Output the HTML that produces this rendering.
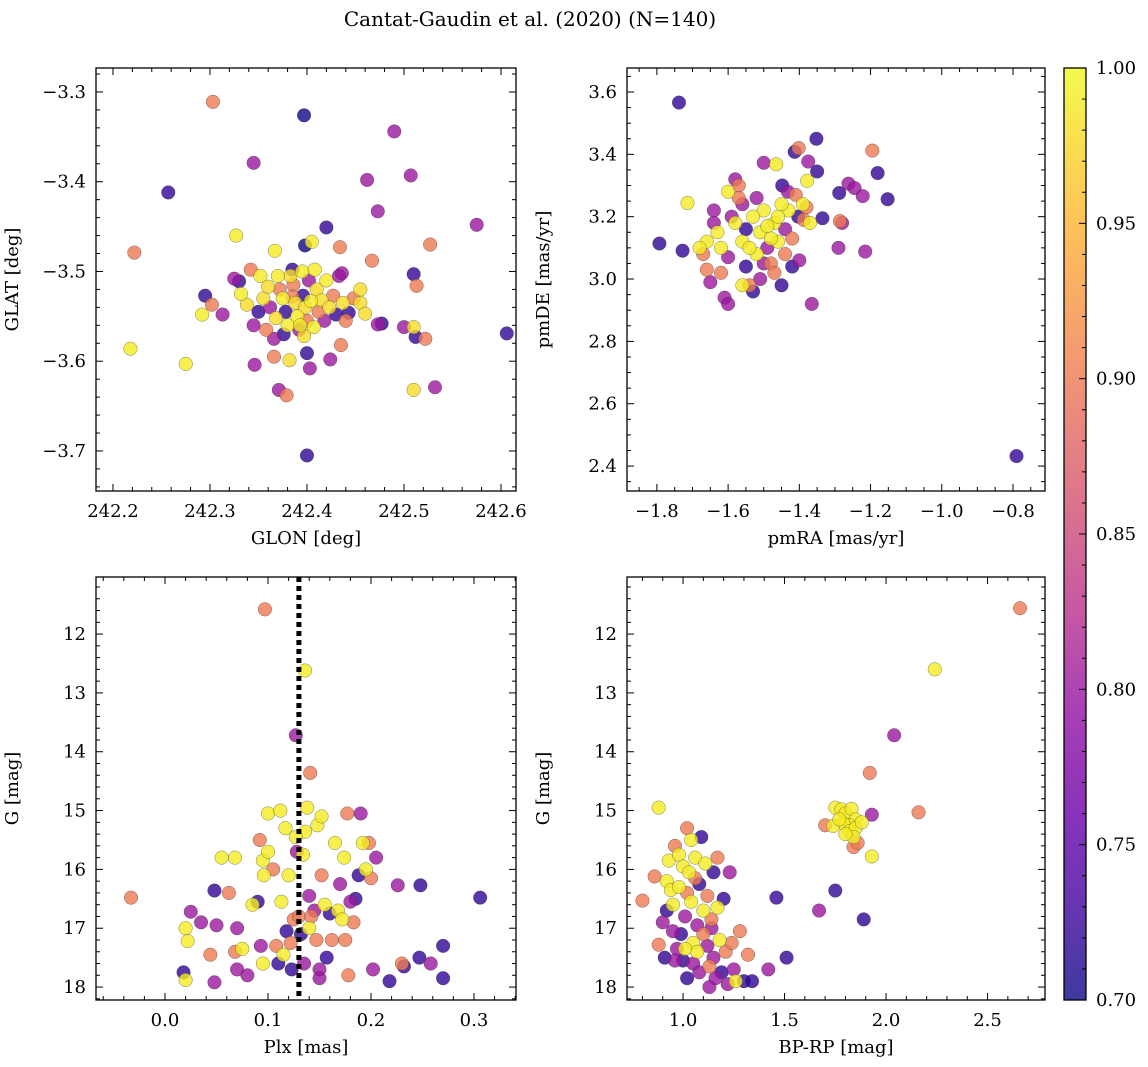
<!DOCTYPE html>
<html><head><meta charset="utf-8"><style>
html,body{margin:0;padding:0;background:#fff;}
svg{display:block;font-family:"DejaVu Serif","Liberation Serif",serif;}
</style></head><body>
<svg id="fig" width="1148" height="1067" viewBox="0 0 1148 1067">
<defs>
<linearGradient id="plasmaGrad" x1="0" y1="1" x2="0" y2="0">
<stop offset="0" stop-color="#0d0887"/><stop offset="0.1" stop-color="#41049d"/><stop offset="0.2" stop-color="#6a00a8"/><stop offset="0.3" stop-color="#8f0da4"/><stop offset="0.4" stop-color="#b12a90"/><stop offset="0.5" stop-color="#cc4778"/><stop offset="0.6" stop-color="#e16462"/><stop offset="0.7" stop-color="#f2844b"/><stop offset="0.8" stop-color="#fca636"/><stop offset="0.9" stop-color="#fcce25"/><stop offset="1" stop-color="#f0f921"/>
</linearGradient>
</defs>
<text x="530" y="26" text-anchor="middle" font-size="20">Cantat-Gaudin et al. (2020) (N=140)</text>
</svg>
<script>
const glon=[242.303,242.397,242.257,242.345,242.490,242.222,242.327,242.367,242.462,242.507,242.473,242.420,242.575,242.527,242.398,242.405,242.434,242.467,242.510,242.513,242.295,242.436,242.443,242.473,242.477,242.455,242.460,242.292,242.218,242.275,242.302,242.313,242.366,242.371,242.379,242.346,242.382,242.400,242.403,242.424,242.400,242.435,242.500,242.512,242.522,242.510,242.532,242.606,242.510,242.325,242.330,242.342,242.338,242.350,242.355,242.360,242.362,242.368,242.372,242.375,242.378,242.380,242.383,242.386,242.388,242.390,242.392,242.395,242.396,242.398,242.400,242.402,242.404,242.407,242.410,242.412,242.415,242.418,242.420,242.423,242.427,242.430,242.433,242.437,242.440,242.345,242.358,242.366,242.370,242.352,242.385,242.376,242.397,242.408,242.448,242.455,242.332,242.385,242.393];
const glat=[-3.311,-3.326,-3.412,-3.379,-3.344,-3.479,-3.460,-3.477,-3.398,-3.393,-3.433,-3.451,-3.448,-3.470,-3.471,-3.467,-3.473,-3.488,-3.503,-3.516,-3.527,-3.502,-3.546,-3.559,-3.558,-3.535,-3.547,-3.548,-3.586,-3.603,-3.537,-3.548,-3.595,-3.632,-3.638,-3.604,-3.599,-3.591,-3.608,-3.598,-3.705,-3.582,-3.562,-3.573,-3.575,-3.632,-3.629,-3.569,-3.562,-3.508,-3.511,-3.498,-3.537,-3.545,-3.530,-3.517,-3.540,-3.552,-3.520,-3.530,-3.545,-3.560,-3.505,-3.515,-3.535,-3.550,-3.565,-3.500,-3.527,-3.540,-3.555,-3.510,-3.533,-3.562,-3.520,-3.545,-3.532,-3.555,-3.510,-3.540,-3.527,-3.548,-3.505,-3.535,-3.555,-3.560,-3.565,-3.575,-3.505,-3.505,-3.528,-3.570,-3.572,-3.498,-3.530,-3.520,-3.525,-3.498,-3.560];
const prob1=[.9,.7,.72,.8,.8,.9,.99,.99,.8,.8,.8,.72,.8,.9,.7,.99,.9,.9,.72,.9,.72,.8,.72,.8,.72,.98,.98,.99,.99,.99,.9,.8,.9,.8,.9,.8,.98,.72,.8,.8,.72,.9,.8,.72,.9,.98,.8,.72,.98,.8,.72,.9,.98,.72,.98,.98,.8,.98,.9,.99,.72,.99,.98,.9,.98,.99,.8,.99,.72,.98,.9,.8,.99,.99,.98,.9,.98,.8,.99,.98,.9,.72,.8,.98,.9,.8,.9,.8,.99,.99,.9,.72,.98,.99,.9,.98,.99,.72,.99];

const pmra=[-1.738,-1.793,-1.728,-1.714,-0.790,-1.352,-1.413,-1.402,-1.195,-1.180,-1.152,-1.288,-1.262,-1.245,-1.222,-1.215,-1.286,-1.280,-1.365,-1.378,-1.465,-1.500,-1.432,-1.448,-1.375,-1.350,-1.290,-1.380,-1.403,-1.388,-1.370,-1.335,-1.67,-1.66,-1.65,-1.62,-1.61,-1.60,-1.59,-1.58,-1.57,-1.56,-1.55,-1.54,-1.53,-1.52,-1.51,-1.50,-1.49,-1.48,-1.47,-1.46,-1.45,-1.44,-1.43,-1.42,-1.41,-1.40,-1.39,-1.63,-1.64,-1.66,-1.68,-1.57,-1.55,-1.53,-1.52,-1.50,-1.48,-1.46,-1.44,-1.58,-1.60,-1.62,-1.56,-1.51,-1.47,-1.45,-1.54,-1.49,-1.42,-1.60,-1.56,-1.64];
const pmde=[3.566,3.114,3.091,3.244,2.432,3.450,3.408,3.420,3.412,3.340,3.256,3.276,3.306,3.292,3.266,3.088,3.186,3.180,2.920,3.315,3.368,3.373,3.280,3.300,3.377,3.345,3.100,3.230,3.200,3.190,3.180,3.195,3.08,3.03,2.99,3.10,2.94,2.92,3.20,3.32,3.30,3.12,3.04,2.98,2.96,3.08,3.15,3.22,3.10,3.05,3.18,3.12,2.98,3.08,3.22,3.13,3.27,3.06,3.24,3.15,3.22,3.12,3.10,3.26,3.16,3.20,3.26,3.05,3.13,3.20,3.16,3.18,3.07,3.02,2.98,3.00,3.02,3.24,3.10,3.17,3.04,3.28,3.24,3.18];
const prob2=[.72,.72,.72,.99,.72,.72,.72,.9,.9,.72,.72,.72,.8,.8,.8,.8,.9,.8,.8,.99,.99,.8,.8,.72,.8,.72,.8,.9,.72,.9,.99,.72,.9,.9,.8,.99,.8,.8,.8,.8,.9,.99,.72,.9,.72,.99,.99,.99,.8,.9,.99,.99,.72,.9,.99,.9,.9,.8,.99,.99,.8,.99,.99,.9,.72,.99,.8,.8,.99,.99,.8,.99,.8,.9,.99,.8,.9,.99,.99,.99,.72,.99,.8,.8];

const plx=[-0.033,0.097,0.136,0.127,0.141,0.136,0.048,0.306,0.248,0.226,0.018,0.020,0.020,0.022,0.025,0.035,0.044,0.048,0.055,0.068,0.068,0.070,0.075,0.080,0.085,0.090,0.092,0.093,0.095,0.095,0.096,0.100,0.100,0.105,0.108,0.110,0.112,0.113,0.115,0.117,0.118,0.120,0.122,0.123,0.125,0.127,0.128,0.130,0.132,0.134,0.135,0.138,0.140,0.142,0.145,0.147,0.148,0.150,0.152,0.152,0.155,0.157,0.160,0.162,0.165,0.168,0.170,0.172,0.174,0.175,0.177,0.178,0.180,0.183,0.185,0.188,0.190,0.192,0.195,0.198,0.200,0.202,0.205,0.218,0.230,0.232,0.247,0.258,0.270,0.270,0.050,0.070,0.062,0.150,0.140];
const gmag3=[16.48,11.58,12.62,13.72,14.36,15.36,16.36,16.48,16.27,16.27,17.75,17.88,17.00,17.22,16.72,16.90,17.45,17.92,15.80,15.80,17.40,17.70,17.35,17.80,16.60,16.55,15.50,17.30,17.60,15.85,16.10,15.05,15.70,16.00,17.30,17.60,15.00,16.55,17.45,15.30,17.05,16.10,17.25,17.70,16.85,15.45,15.70,16.80,17.10,15.75,17.60,14.95,17.00,16.80,16.70,17.20,15.25,17.70,15.10,16.10,16.60,17.50,16.75,17.20,15.55,16.70,16.25,16.85,15.80,17.20,15.05,17.80,16.55,16.90,16.50,16.10,15.05,15.55,16.00,15.55,16.15,17.70,15.80,17.90,17.60,17.65,17.50,17.60,17.30,17.85,16.95,17.00,16.40,17.85,16.45];
const prob3=[.9,.9,.99,.8,.9,.99,.72,.72,.72,.8,.72,.99,.99,.99,.8,.8,.9,.8,.99,.99,.9,.8,.99,.8,.99,.72,.9,.8,.99,.99,.99,.99,.99,.9,.9,.72,.99,.99,.99,.99,.72,.99,.9,.72,.9,.99,.8,.9,.72,.99,.8,.99,.99,.9,.8,.9,.99,.8,.99,.9,.99,.72,.72,.9,.99,.99,.8,.99,.99,.9,.9,.9,.8,.9,.72,.72,.8,.99,.99,.9,.9,.8,.8,.72,.9,.72,.72,.8,.72,.72,.8,.8,.9,.8,.8];

const bprp=[2.66,2.24,2.04,1.92,2.16,1.93,1.93,1.89,1.75,1.67,1.46,1.51,0.88,1.75,1.78,1.80,1.83,1.85,1.82,1.79,1.74,1.70,1.82,1.85,1.88,1.84,1.80,1.84,1.77,1.86,0.80,0.86,0.88,0.90,0.92,0.92,0.93,0.94,0.95,0.95,0.96,0.97,0.98,0.98,0.99,1.00,1.00,1.01,1.02,1.02,1.03,1.04,1.04,1.05,1.05,1.06,1.07,1.07,1.08,1.08,1.09,1.10,1.10,1.11,1.12,1.12,1.13,1.13,1.14,1.15,1.15,1.16,1.17,1.17,1.18,1.19,1.20,1.21,1.22,1.23,1.24,1.25,1.26,1.28,1.30,1.32,1.34,1.42,0.96,1.02,1.06,1.14,0.91,1.01];
const gmag4=[11.56,12.60,13.72,14.36,15.03,15.07,15.78,16.85,16.36,16.70,16.48,17.50,14.95,14.95,14.98,15.05,14.97,15.15,15.25,15.22,15.26,15.25,15.35,15.30,15.20,15.45,15.40,15.62,15.15,15.55,16.53,16.12,17.28,16.90,16.70,16.20,15.85,16.35,17.05,16.60,15.60,17.35,15.75,16.30,17.10,15.95,17.55,16.80,15.30,17.85,16.05,15.50,16.55,17.25,17.60,15.80,16.95,17.40,16.25,17.75,15.45,16.70,17.10,15.90,17.30,16.45,17.65,18.00,16.85,17.50,16.05,17.85,16.65,15.80,17.20,17.75,16.50,17.40,17.95,16.05,17.25,17.70,17.90,17.05,17.90,17.45,17.90,17.70,17.55,16.40,16.15,17.00,17.50,17.35];
const prob4=[.9,.99,.8,.9,.9,.8,.99,.72,.72,.8,.72,.72,.99,.99,.99,.99,.99,.99,.99,.99,.99,.9,.99,.99,.99,.99,.99,.9,.99,.9,.9,.9,.9,.8,.72,.99,.99,.99,.8,.99,.9,.8,.99,.99,.72,.99,.72,.8,.9,.72,.99,.99,.99,.99,.8,.99,.8,.99,.72,.8,.72,.99,.9,.99,.8,.9,.9,.8,.9,.8,.72,.8,.99,.9,.99,.72,.72,.9,.8,.8,.9,.8,.99,.9,.72,.9,.72,.8,.8,.9,.9,.8,.72,.99];

const plxLine=0.13;
const cbTicks=["0.70","0.75","0.80","0.85","0.90","0.95","1.00"];

const NS="http://www.w3.org/2000/svg";
const svg=document.getElementById('fig');
const FS=18;
function mk(tag,attrs,parent){const e=document.createElementNS(NS,tag);for(const k in attrs)e.setAttribute(k,attrs[k]);(parent||svg).appendChild(e);return e;}
const stops=[[13,8,135],[65,4,157],[106,0,168],[143,13,164],[177,42,144],[204,71,120],[225,100,98],[242,132,75],[252,166,54],[252,206,37],[240,249,33]];
function plasma(p){let t=Math.max(0,Math.min(1,(p-0.7)/0.3))*10;const i=Math.min(9,Math.floor(t));const f=t-i;const a=stops[i],b=stops[i+1];return `rgb(${Math.round(a[0]+(b[0]-a[0])*f)},${Math.round(a[1]+(b[1]-a[1])*f)},${Math.round(a[2]+(b[2]-a[2])*f)})`;}
function fmt(v,d){let s=v.toFixed(d);return s.replace('-','\u2212');}

function panel(cfg){
  const g=mk('g',{});
  
  
  const sx=v=>cfg.L+(v-cfg.xmin)/(cfg.xmax-cfg.xmin)*(cfg.R-cfg.L);
  const sy=cfg.inv?(v=>cfg.T+(v-cfg.ymin)/(cfg.ymax-cfg.ymin)*(cfg.B-cfg.T)):(v=>cfg.B-(v-cfg.ymin)/(cfg.ymax-cfg.ymin)*(cfg.B-cfg.T));
  const pts=mk('g',{},g);
  
  
  const order=cfg.p.map((v,i)=>i).sort((a,b)=>cfg.p[a]-cfg.p[b]);
  order.forEach(i=>{
    const c=mk('circle',{cx:sx(cfg.x[i]),cy:sy(cfg.y[i]),r:6.8,fill:plasma(cfg.p[i]),'fill-opacity':0.8,stroke:'#333','stroke-width':0.5,'stroke-opacity':0.6},pts);
    
    
  });
  if(cfg.vline!==undefined){
    const l=mk('line',{x1:sx(cfg.vline),x2:sx(cfg.vline),y1:cfg.T,y2:cfg.B,stroke:'#000','stroke-width':5,'stroke-dasharray':'5,4'},g);
    
    
  }
  const f=mk('rect',{x:cfg.L,y:cfg.T,width:cfg.R-cfg.L,height:cfg.B-cfg.T,fill:'none',stroke:'#000','stroke-width':1.3},g);
  
  
  const eps=1e-9;
  for(let v=Math.ceil(cfg.xmin/cfg.xmn-eps)*cfg.xmn;v<=cfg.xmax+eps;v+=cfg.xmn){
    const major=Math.abs(v/cfg.xmj-Math.round(v/cfg.xmj))<1e-6;const len=major?7:4;const X=sx(v);
    mk('line',{x1:X,x2:X,y1:cfg.B,y2:cfg.B-len,stroke:'#000','stroke-width':1},g);
    mk('line',{x1:X,x2:X,y1:cfg.T,y2:cfg.T+len,stroke:'#000','stroke-width':1},g);
    if(major){const t=mk('text',{x:X,y:cfg.B+26,'text-anchor':'middle','font-size':FS},g);t.textContent=fmt(v,cfg.xd);
      
      }
  }
  for(let v=Math.ceil(cfg.ymin/cfg.ymn-eps)*cfg.ymn;v<=cfg.ymax+eps;v+=cfg.ymn){
    const major=Math.abs(v/cfg.ymj-Math.round(v/cfg.ymj))<1e-6;const len=major?7:4;const Y=sy(v);
    mk('line',{x1:cfg.L,x2:cfg.L+len,y1:Y,y2:Y,stroke:'#000','stroke-width':1},g);
    mk('line',{x1:cfg.R,x2:cfg.R-len,y1:Y,y2:Y,stroke:'#000','stroke-width':1},g);
    if(major){const t=mk('text',{x:cfg.L-10,y:Y+6,'text-anchor':'end','font-size':FS},g);t.textContent=fmt(v,cfg.yd);
      
      }
  }
  const xl=mk('text',{x:(cfg.L+cfg.R)/2,y:cfg.B+53,'text-anchor':'middle','font-size':FS},g);xl.textContent=cfg.xlabel;
  
  
  const yx=cfg.L-78,yy=(cfg.T+cfg.B)/2;
  const yl=mk('text',{x:yx,y:yy,'text-anchor':'middle','font-size':FS,transform:`rotate(-90 ${yx} ${yy})`},g);yl.textContent=cfg.ylabel;
  
  
}
panel({name:'glon-glat-panel',L:96,R:516,T:68,B:491,xmin:242.1825,xmax:242.6155,ymin:-3.7446,ymax:-3.2733,xmj:0.1,xmn:0.02,ymj:0.1,ymn:0.02,xd:1,yd:1,x:glon,y:glat,p:prob1,xlabel:'GLON [deg]',ylabel:'GLAT [deg]'});
panel({name:'proper-motion-panel',L:627,R:1045,T:68,B:491,xmin:-1.884,xmax:-0.710,ymin:2.320,ymax:3.677,xmj:0.2,xmn:0.05,ymj:0.2,ymn:0.05,xd:1,yd:1,x:pmra,y:pmde,p:prob2,xlabel:'pmRA [mas/yr]',ylabel:'pmDE [mas/yr]'});
panel({name:'parallax-magnitude-panel',L:96,R:516,T:577,B:1000,xmin:-0.067,xmax:0.3408,ymin:11.03,ymax:18.22,inv:true,xmj:0.1,xmn:0.02,ymj:1,ymn:0.2,xd:1,yd:0,x:plx,y:gmag3,p:prob3,vline:plxLine,xlabel:'Plx [mas]',ylabel:'G [mag]'});
panel({name:'color-magnitude-panel',L:627,R:1045,T:577,B:1000,xmin:0.724,xmax:2.783,ymin:11.03,ymax:18.22,inv:true,xmj:0.5,xmn:0.1,ymj:1,ymn:0.2,xd:1,yd:0,x:bprp,y:gmag4,p:prob4,xlabel:'BP-RP [mag]',ylabel:'G [mag]'});

const cb=mk('g',{});


const cL=1064,cR=1086,cT=68,cB=1000;
mk('rect',{x:cL,y:cT,width:cR-cL,height:cB-cT,fill:'url(#plasmaGrad)','fill-opacity':0.8},cb);
mk('rect',{x:cL,y:cT,width:cR-cL,height:cB-cT,fill:'none',stroke:'#000','stroke-width':1.3},cb);
const cy=v=>cB-(v-0.7)/0.3*(cB-cT);
for(let k=0;k<=30;k++){const v=0.7+k*0.01;const major=k%5===0;const Y=cy(v);
  mk('line',{x1:cR,x2:cR-(major?7:4),y1:Y,y2:Y,stroke:'#000','stroke-width':1},cb);}
cbTicks.forEach(s=>{const t=mk('text',{x:cR+10,y:cy(parseFloat(s))+6,'font-size':FS},cb);t.textContent=s;
  
  });
</script>
</body></html>
